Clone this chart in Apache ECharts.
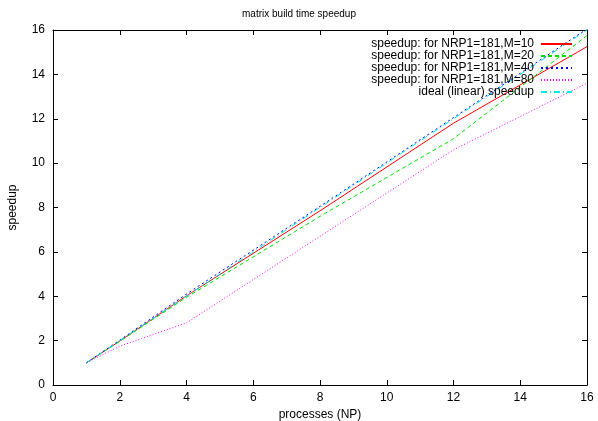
<!doctype html>
<html>
<head>
<meta charset="utf-8">
<title>matrix build time speedup</title>
<script src="https://cdn.jsdelivr.net/npm/echarts@6/dist/echarts.min.js"></script>
<style>
  html, body { margin: 0; padding: 0; background: #fff; }
  #main { width: 598px; height: 421px; }
</style>
</head>
<body>
<div id="main"></div>
<script>
// processes (NP)
var procs = [1, 2, 4, 8, 12, 16];
// speedup per run
var m10 = [1, 1.98, 4.02, 7.85, 11.8, 15.25];
var m20 = [1, 1.97, 3.95, 7.6, 11.1, 15.75];
var m40 = [1, 2.02, 4.1, 8.05, 12.05, 16.05];
var m80 = [1, 1.75, 2.8, 6.7, 10.6, 13.6];
var ideal = [1, 2, 4, 8, 12, 16];
var names = [
  'speedup: for NRP1=181,M=10',
  'speedup: for NRP1=181,M=20',
  'speedup: for NRP1=181,M=40',
  'speedup: for NRP1=181,M=80',
  'ideal (linear) speedup'
];

function pairs(ys) {
  return procs.map(function (x, i) { return [x, ys[i]]; });
}

var font = 'Liberation Sans, Arial, sans-serif';
var chart = echarts.init(document.getElementById('main'));

function axisBase(show) {
  return {
    type: 'value', min: 0, max: 16, interval: 2,
    axisLine: { show: true, onZero: false, lineStyle: { color: '#000', width: 1 } },
    axisTick: { show: true, inside: true, length: 5, lineStyle: { color: '#000' } },
    axisLabel: { show: show, color: '#000', fontSize: 12, fontFamily: font },
    splitLine: { show: false }
  };
}

var xMain = axisBase(true);
xMain.name = 'processes (NP)';
xMain.nameLocation = 'middle';
xMain.nameGap = 24;
xMain.nameTextStyle = { color: '#000', fontSize: 12, fontFamily: font };
xMain.axisLabel.margin = 7;
var xTop = axisBase(false);
xTop.position = 'top';

var yMain = axisBase(true);
yMain.name = 'speedup';
yMain.nameLocation = 'middle';
yMain.nameGap = 34;
yMain.nameTextStyle = { color: '#000', fontSize: 12, fontFamily: font };
yMain.axisLabel.margin = 8;
var yRight = axisBase(false);
yRight.position = 'right';

function line(name, ys, color, type) {
  return {
    name: name, type: 'line', data: pairs(ys), symbol: 'none',
    lineStyle: { color: color, width: 1, type: type },
    itemStyle: { color: color },
    emphasis: { disabled: true }, animation: false
  };
}

chart.setOption({
  backgroundColor: '#fff',
  title: {
    text: 'matrix build time speedup', left: 'center', top: 4,
    textStyle: { color: '#000', fontSize: 10, fontWeight: 'normal', fontFamily: font }
  },
  grid: { left: 53, right: 11, top: 30, bottom: 36, outerBoundsMode: 'none' },
  legend: {
    orient: 'vertical', right: 20, top: 33, align: 'right',
    itemWidth: 31, itemHeight: 8, itemGap: 0,
    itemStyle: { opacity: 0 },
    textStyle: { color: '#000', fontSize: 12, lineHeight: 11.6, fontFamily: font, padding: [0, 2, 0, 0] },
    data: names
  },
  xAxis: [xMain, xTop],
  yAxis: [yMain, yRight],
  series: [
    line(names[0], m10, '#ff0000', 'solid'),
    line(names[1], m20, '#00e000', [4, 3]),
    line(names[2], m40, '#0000ff', [2, 3]),
    line(names[3], m80, '#ff00ff', [1, 2]),
    line(names[4], ideal, '#00e8e8', [6, 3, 1, 3])
  ]
});
</script>
</body>
</html>
